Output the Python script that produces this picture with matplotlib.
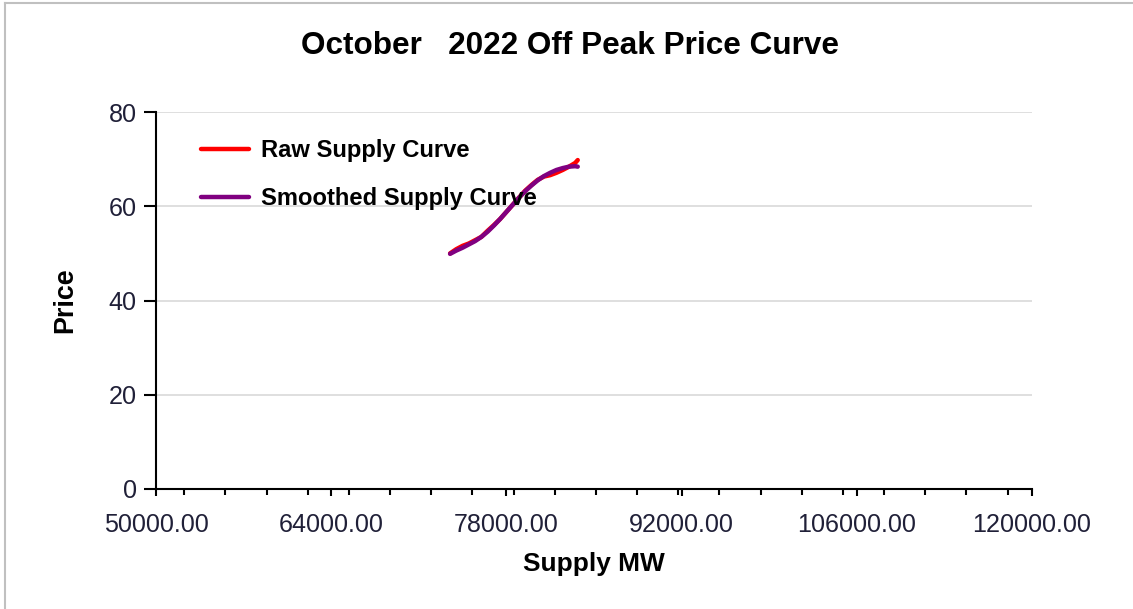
import numpy as np
import matplotlib
matplotlib.use("Agg")
import matplotlib.pyplot as plt
from matplotlib import font_manager
from matplotlib.ticker import FixedLocator, FormatStrFormatter
from matplotlib.lines import Line2D

# data
raw_mw = [73500, 74000, 74500, 75000, 75500, 76000, 76500, 77000, 77500, 78000, 78500,
          79000, 79500, 80000, 80500, 81000, 81500, 82000, 82500, 83000, 83500, 83700]
raw_price = [50.0, 50.9, 51.6, 52.1, 52.8, 53.5, 54.8, 56.0, 57.3, 58.8, 60.3,
             61.8, 63.3, 64.5, 65.6, 66.3, 66.6, 67.1, 67.7, 68.4, 69.2, 69.8]
smooth_mw = [73500, 74000, 74500, 75000, 75500, 76000, 76500, 77000, 77500, 78000, 78500,
             79000, 79500, 80000, 80500, 81000, 81500, 82000, 82500, 83000, 83500, 83700]
smooth_price = [49.9, 50.6, 51.2, 51.9, 52.6, 53.5, 54.6, 55.9, 57.3, 58.8, 60.3,
                61.8, 63.2, 64.4, 65.5, 66.4, 67.1, 67.7, 68.1, 68.4, 68.5, 68.4]
x_ticks = [50000, 64000, 78000, 92000, 106000, 120000]
y_ticks = [0, 20, 40, 60, 80]

# narrow font if there is one, otherwise shrink sizes so widths match
try:
    font_manager.findfont("Liberation Sans Narrow", fallback_to_default=False)
    fam = "Liberation Sans Narrow"
    k = 1.0
except Exception:
    fam = "Liberation Sans"
    k = 0.84
plt.rcParams["font.family"] = [fam, "DejaVu Sans"]

fig = plt.figure(figsize=(11.33, 6.09), dpi=100)
ax = fig.add_axes([156 / 1133, 1 - 489 / 609, 876 / 1133, 377 / 609])

ax.plot(raw_mw, raw_price, color="#ff0000", lw=3.2, solid_capstyle="round",
        label="Raw Supply Curve")
ax.plot(smooth_mw, smooth_price, color="#800080", lw=3.2, solid_capstyle="round",
        label="Smoothed Supply Curve")

ax.set_xlim(50000, 120000)
ax.set_ylim(0, 80)
ax.set_xticks(x_ticks)
ax.set_yticks(y_ticks)
ax.xaxis.set_minor_locator(FixedLocator(np.arange(52250, 120000, 3290)))
ax.xaxis.set_major_formatter(FormatStrFormatter("%.2f"))
ax.grid(axis="y", color="#d9d9d9", lw=1.2)
ax.set_axisbelow(True)

for s in ["top", "right"]:
    ax.spines[s].set_visible(False)
for s in ["left", "bottom"]:
    ax.spines[s].set_linewidth(1.5)
    ax.spines[s].set_color("black")

tick_fs = 21.5 * k
ax.tick_params(axis="x", which="major", length=5, width=1.5, pad=12,
               labelsize=tick_fs, labelcolor="#202038")
ax.tick_params(axis="x", which="minor", length=4, width=1.5)
ax.tick_params(axis="y", length=9, width=1.5, pad=5,
               labelsize=tick_fs, labelcolor="#202038")

ax.set_xlabel("Supply MW", fontsize=22.5 * k, fontweight="bold", labelpad=11)
ax.set_ylabel("Price", fontsize=23 * k, fontweight="bold", labelpad=22)
fig.text(570 / 1133, 1 - 46 / 609, "October   2022 Off Peak Price Curve",
         ha="center", va="center", fontsize=27 * k, fontweight="bold")

leg = ax.legend(loc="upper left", bbox_to_anchor=(0.027, 0.985), frameon=False,
                handlelength=2.0, handletextpad=0.5, labelspacing=1.05,
                prop={"size": 20.4 * k, "weight": "bold"})
for h in leg.get_lines():
    h.set_linewidth(3.2)

# grey frame on top and left edge like the screenshot
fig.add_artist(Line2D([5 / 1133, 5 / 1133], [0, 1 - 3 / 609], color="#c0c0c0", lw=1.5))
fig.add_artist(Line2D([5 / 1133, 1], [1 - 3 / 609, 1 - 3 / 609], color="#c0c0c0", lw=1.5))

fig.savefig("out.png", dpi=100)
